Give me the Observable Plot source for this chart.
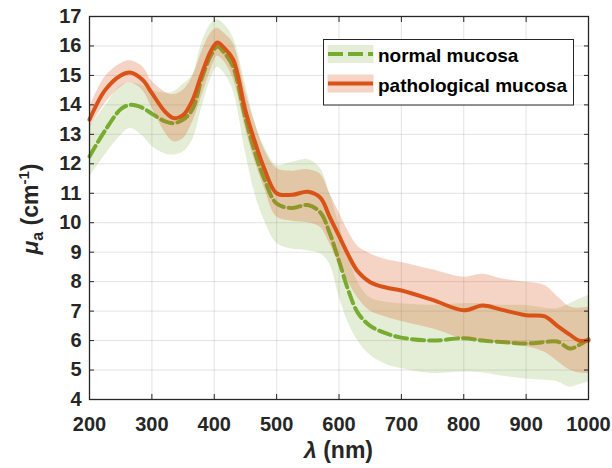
<!DOCTYPE html>
<html>
<head>
<meta charset="utf-8">
<script src="https://cdn.jsdelivr.net/npm/d3@7"></script>
<script src="https://cdn.jsdelivr.net/npm/@observablehq/plot@0.6"></script>
<style>
  body { margin: 0; background: #fff; }
  #chart svg { display: block; }
</style>
</head>
<body>
<div id="chart"></div>
<script>
// Absorption coefficient spectra (mean ± spread) of normal and pathological mucosa
const wavelength = [200, 225, 250, 265, 285, 300, 320, 335, 350, 365, 380, 395, 405, 415, 430, 450, 465, 480, 500, 525, 550, 570, 585, 600, 615, 630, 650, 675, 700, 750, 800, 830, 860, 900, 930, 950, 970, 985, 1000];

const normalMean  = [12.25, 13.13, 13.85, 14.0, 13.9, 13.7, 13.45, 13.38, 13.5, 13.85, 14.9, 15.7, 15.98, 15.8, 15.3, 13.55, 12.4, 11.5, 10.65, 10.5, 10.6, 10.35, 9.65, 8.7, 7.7, 6.95, 6.5, 6.25, 6.1, 6.0, 6.08, 6.0, 5.95, 5.9, 5.95, 5.97, 5.73, 5.85, 6.05];
const normalLow   = [11.55, 12.3, 12.95, 13.2, 12.95, 12.6, 12.35, 12.3, 12.4, 12.8, 13.9, 14.9, 15.28, 15.1, 14.5, 12.4, 11.0, 10.1, 9.3, 9.1, 9.05, 8.95, 8.6, 7.5, 6.6, 6.0, 5.5, 5.2, 5.05, 4.88, 4.93, 4.9, 4.8, 4.7, 4.65, 4.6, 4.42, 4.5, 4.59];
const normalHigh  = [13.25, 13.95, 14.65, 14.75, 14.65, 14.5, 14.4, 14.45, 14.7, 15.0, 16.1, 16.75, 16.89, 16.75, 16.3, 14.7, 13.4, 12.6, 11.95, 12.05, 12.15, 11.85, 11.0, 9.95, 8.9, 8.0, 7.45, 7.3, 7.25, 7.2, 7.25, 7.25, 7.2, 7.19, 7.1, 7.08, 7.25, 7.4, 7.53];

const pathoMean   = [13.5, 14.5, 15.0, 15.1, 14.85, 14.4, 13.8, 13.55, 13.65, 14.15, 15.05, 15.85, 16.12, 15.95, 15.55, 13.8, 12.75, 11.85, 11.0, 10.95, 11.05, 10.85, 10.2, 9.55, 8.9, 8.35, 7.98, 7.8, 7.7, 7.38, 7.03, 7.19, 7.05, 6.86, 6.82, 6.5, 6.2, 6.0, 6.0];
const pathoLow    = [13.2, 14.05, 14.6, 14.75, 14.5, 13.9, 13.1, 12.75, 12.85, 13.4, 14.3, 15.2, 15.65, 15.5, 14.9, 13.2, 12.1, 11.2, 10.2, 10.05, 10.0, 9.85, 9.3, 8.6, 8.0, 7.45, 7.0, 6.8, 6.65, 6.4, 6.05, 6.0, 5.9, 5.8, 5.6, 5.3, 5.0, 4.9, 4.88];
const pathoHigh   = [13.9, 14.95, 15.4, 15.5, 15.3, 14.8, 14.45, 14.35, 14.5, 14.95, 15.8, 16.45, 16.6, 16.45, 16.1, 14.45, 13.4, 12.5, 11.85, 11.75, 11.8, 11.65, 11.0, 10.35, 9.7, 9.2, 8.95, 8.75, 8.65, 8.4, 8.15, 8.25, 8.1, 7.98, 7.87, 7.5, 7.15, 7.1, 7.13];

const xTicks = [200, 300, 400, 500, 600, 700, 800, 900, 1000];
const yTicks = [4, 5, 6, 7, 8, 9, 10, 11, 12, 13, 14, 15, 16, 17];

const seriesNames = ["normal mucosa", "pathological mucosa"];

const rows = wavelength.map((w, i) => ({
  w,
  nMean: normalMean[i], nLow: normalLow[i], nHigh: normalHigh[i],
  pMean: pathoMean[i], pLow: pathoLow[i], pHigh: pathoHigh[i]
}));

const green = "#77AC30";
const orange = "#D95319";
const ink = "#262626";
const font = "'Liberation Sans', Arial, Helvetica, sans-serif";
const dash = "12,5";

const plot = Plot.plot({
  width: 612,
  height: 468,
  marginLeft: 89,
  marginRight: 24,
  marginTop: 16,
  marginBottom: 69,
  style: { fontFamily: font, fontSize: "20px", fontWeight: "bold", color: ink, background: "white", overflow: "visible" },
  x: { domain: [200, 1000] },
  y: { domain: [4, 17] },
  marks: [
    Plot.gridX(xTicks, { stroke: ink, strokeOpacity: 0.13, strokeWidth: 1 }),
    Plot.gridY(yTicks, { stroke: ink, strokeOpacity: 0.13, strokeWidth: 1 }),
    Plot.areaY(rows, { x: "w", y1: "nLow", y2: "nHigh", fill: green, fillOpacity: 0.2, curve: "catmull-rom" }),
    Plot.lineY(rows, { x: "w", y: "nMean", stroke: green, strokeWidth: 4, strokeDasharray: dash, curve: "catmull-rom" }),
    Plot.areaY(rows, { x: "w", y1: "pLow", y2: "pHigh", fill: orange, fillOpacity: 0.25, curve: "catmull-rom" }),
    Plot.lineY(rows, { x: "w", y: "pMean", stroke: orange, strokeWidth: 4, curve: "catmull-rom" }),
    // tick labels
    Plot.axisX(xTicks, { anchor: "bottom", tickSize: 0, tickPadding: 17, label: null, tickFormat: d => String(d) }),
    Plot.axisY(yTicks, { anchor: "left", tickSize: 0, tickPadding: 8, label: null, tickFormat: d => String(d) }),
    // inward ticks on all four sides
    Plot.axisX(xTicks, { anchor: "bottom", tickSize: -5, label: null, tickFormat: () => "", stroke: ink }),
    Plot.axisX(xTicks, { anchor: "top", tickSize: -5, label: null, tickFormat: () => "", stroke: ink }),
    Plot.axisY(yTicks, { anchor: "left", tickSize: -5, label: null, tickFormat: () => "", stroke: ink }),
    Plot.axisY(yTicks, { anchor: "right", tickSize: -5, label: null, tickFormat: () => "", stroke: ink }),
    Plot.frame({ stroke: ink, strokeWidth: 1.3 })
  ]
});

const svg = d3.select(plot);

// axis titles
const xTitle = svg.append("text")
  .attr("x", 338.5).attr("y", 458)
  .attr("text-anchor", "middle")
  .attr("font-family", font).attr("font-weight", "bold").attr("font-size", 23).attr("fill", ink);
xTitle.append("tspan").attr("font-style", "italic").text("λ");
xTitle.append("tspan").text(" (nm)");

const yTitle = svg.append("text")
  .attr("transform", "translate(38,209) rotate(-90)")
  .attr("text-anchor", "middle")
  .attr("font-family", font).attr("font-weight", "bold").attr("font-size", 23).attr("fill", ink);
yTitle.append("tspan").attr("font-style", "italic").text("μ");
yTitle.append("tspan").attr("font-size", 16).attr("dy", 5).text("a");
yTitle.append("tspan").attr("dy", -5).text(" (cm");
yTitle.append("tspan").attr("font-size", 15).attr("dy", -9).text("-1");
yTitle.append("tspan").attr("dy", 9).text(")");

// legend
const legend = svg.append("g")
  .attr("font-family", font).attr("font-weight", "bold").attr("font-size", 19)
  .attr("fill", "#000").attr("text-anchor", "start");
legend.append("rect")
  .attr("x", 323.5).attr("y", 39.5).attr("width", 250).attr("height", 65.5)
  .attr("fill", "white").attr("stroke", ink).attr("stroke-width", 1);

const legendItems = [
  { name: seriesNames[0], color: green, bandOpacity: 0.2, dashed: true, cy: 54 },
  { name: seriesNames[1], color: orange, bandOpacity: 0.25, dashed: false, cy: 83.5 }
];
for (const item of legendItems) {
  legend.append("rect")
    .attr("x", 327.5).attr("y", item.cy - 9).attr("width", 46).attr("height", 18)
    .attr("fill", item.color).attr("fill-opacity", item.bandOpacity);
  legend.append("line")
    .attr("x1", 328).attr("x2", 373).attr("y1", item.cy).attr("y2", item.cy)
    .attr("stroke", item.color).attr("stroke-width", 4)
    .attr("stroke-dasharray", item.dashed ? "15,5" : null);
  legend.append("text")
    .attr("x", 378).attr("y", item.cy + 8)
    .attr("text-anchor", "start")
    .text(item.name);
}

document.getElementById("chart").appendChild(plot);
</script>
</body>
</html>
